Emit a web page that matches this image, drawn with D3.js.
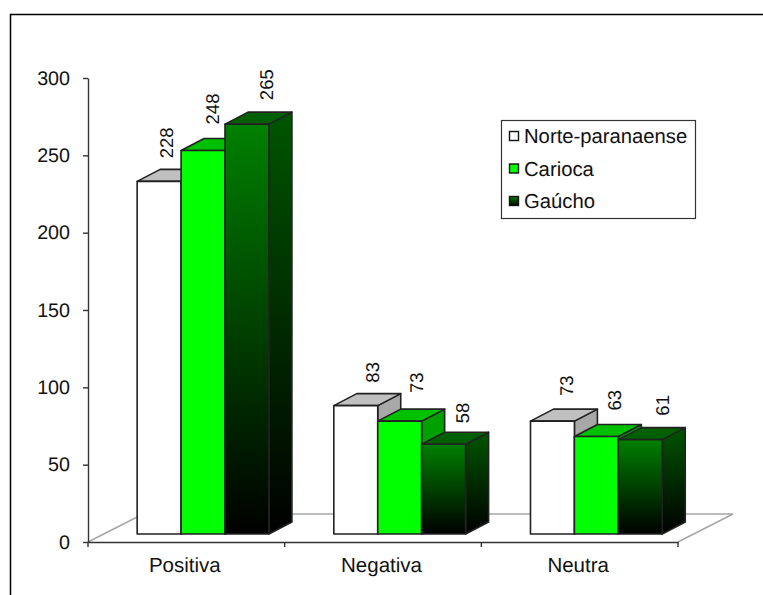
<!DOCTYPE html>
<html lang="pt">
<head>
<meta charset="UTF-8">
<title>Avaliação por região</title>
<script src="https://cdn.jsdelivr.net/npm/d3@7"></script>
<style>
  html, body { margin: 0; padding: 0; background: #fff; }
  svg { display: block; font-family: "Liberation Sans", Arial, sans-serif; fill: #111; text-rendering: geometricPrecision; }
</style>
</head>
<body>
<svg width="763" height="595"></svg>
<script>
// data
var categories = ['Positiva', 'Negativa', 'Neutra'];
var seriesNames = ['Norte-paranaense', 'Carioca', 'Gaúcho'];
var norteParanaense = [228, 83, 73];
var carioca = [248, 73, 63];
var gaucho = [265, 58, 61];
var yTicks = [0, 50, 100, 150, 200, 250, 300];

var seriesValues = [norteParanaense, carioca, gaucho];

var svg = d3.select('svg');

// chart frame: only top and left edges are visible
svg.append('path').attr('d', 'M10.5,595V14.5H763').attr('fill', 'none').attr('stroke', '#000').attr('stroke-width', 1.5);

var plotLeft = 88, plotRight = 678, plotTop = 78, plotBottom = 542;
var floorDx = 55, floorDy = 28;  // floor depth
var barShiftX = 16, barShiftY = 8;  // bars stand a bit inside the floor
var depthX = 23, depthY = 12;  // bar depth

var y = d3.scaleLinear().domain([0, 300]).range([plotBottom, plotTop]);
var xAxisScale = d3.scaleBand().domain(categories).range([plotLeft, plotRight]);
var x0 = d3.scaleBand().domain(categories)
  .range([plotLeft + barShiftX + 0.7, plotRight + barShiftX + 0.7])
  .paddingInner(0.33).paddingOuter(0.165);
var x1 = d3.scaleBand().domain(d3.range(seriesNames.length)).range([0, x0.bandwidth()]);

// gradients for the dark series
var defs = svg.append('defs');
function addGrad(id, top, bottom) {
  var g = defs.append('linearGradient').attr('id', id).attr('x1', 0).attr('y1', 0).attr('x2', 0).attr('y2', 1);
  g.append('stop').attr('offset', '0%').attr('stop-color', top);
  g.append('stop').attr('offset', '100%').attr('stop-color', bottom);
}
addGrad('darkFront', '#008000', '#000000');
addGrad('darkSide', '#005500', '#000000');

var faceFill = [
  { front: '#ffffff', top: '#c0c0c0', side: '#a8a8a8' },
  { front: '#00ff00', top: '#00c000', side: '#00a000' },
  { front: 'url(#darkFront)', top: '#006000', side: 'url(#darkSide)' }
];

// floor
svg.append('path')
  .attr('d', d3.line()([[plotLeft, plotBottom], [plotLeft + floorDx, plotBottom - floorDy],
    [plotRight + floorDx, plotBottom - floorDy], [plotRight, plotBottom]]))
  .attr('fill', 'none').attr('stroke', '#a6a6a6').attr('stroke-width', 1.5);

// axes
var yAxis = d3.axisLeft(y).tickValues(yTicks).tickSize(5).tickSizeOuter(0).tickPadding(13);
var yG = svg.append('g').attr('transform', 'translate(' + plotLeft + ',0)').call(yAxis);
yG.selectAll('text').attr('font-size', 19.7).attr('font-family', 'inherit').attr('fill', '#111');
yG.selectAll('line,path').attr('stroke', '#333').attr('stroke-width', 1.4);

var xAxis = d3.axisBottom(xAxisScale).tickSize(0).tickPadding(15);
var xG = svg.append('g').attr('transform', 'translate(0,' + plotBottom + ')').call(xAxis);
xG.selectAll('text').attr('font-size', 20.5).attr('font-family', 'inherit').attr('fill', '#111').attr('dx', -1.5);
xG.select('.domain').attr('stroke', '#333').attr('stroke-width', 1.6);
// ticks sit between the categories
xG.selectAll('.sep').data(d3.range(categories.length + 1)).enter().append('line')
  .attr('x1', function (i) { return plotLeft + i * xAxisScale.step(); })
  .attr('x2', function (i) { return plotLeft + i * xAxisScale.step(); })
  .attr('y1', 0).attr('y2', 5).attr('stroke', '#333').attr('stroke-width', 1.4);

// bars
var barLine = d3.line();
categories.forEach(function (cat, c) {
  seriesValues.forEach(function (vals, s) {
    var v = vals[c];
    var left = x0(cat) + x1(s), right = left + x1.bandwidth();
    var top = y(v) - barShiftY, bottom = y(0) - barShiftY;
    var g = svg.append('g').attr('stroke', '#222').attr('stroke-width', 1.6).attr('stroke-linejoin', 'round');
    g.append('path')
      .attr('d', barLine([[right, top], [right + depthX, top - depthY], [right + depthX, bottom - depthY], [right, bottom]]) + 'Z')
      .attr('fill', faceFill[s].side);
    g.append('path')
      .attr('d', barLine([[left, top], [left + depthX, top - depthY], [right + depthX, top - depthY], [right, top]]) + 'Z')
      .attr('fill', faceFill[s].top);
    g.append('rect').attr('x', left).attr('y', top).attr('width', right - left).attr('height', bottom - top)
      .attr('fill', faceFill[s].front);
  });
});

// value labels were moved by hand in the original, so each has its own nudge [dx, dy]
var labelNudge = [
  [[7, -23], [9, -26], [19, -24]],
  [[17, -23], [17, -28], [19, -21]],
  [[14, -25], [18, -26], [22, -24]]
];
categories.forEach(function (cat, c) {
  seriesValues.forEach(function (vals, s) {
    var cx = x0(cat) + x1(s) + x1.bandwidth() / 2 + labelNudge[c][s][0];
    var by = y(vals[c]) - barShiftY + labelNudge[c][s][1];
    svg.append('text')
      .attr('transform', 'translate(' + cx + ',' + by + ') rotate(-90)')
      .attr('dy', '0.36em')
      .attr('font-size', 18.5)
      .text(vals[c]);
  });
});

// legend
var legend = svg.append('g').attr('transform', 'translate(501,120)');
legend.append('rect').attr('x', 0.5).attr('y', 0.5).attr('width', 194).attr('height', 98)
  .attr('fill', '#fff').attr('stroke', '#333').attr('stroke-width', 1.2);
var legendFill = ['#ffffff', '#00ff00', 'url(#darkFront)'];
var legendY = d3.scalePoint().domain(seriesNames).range([16, 81]);
seriesNames.forEach(function (name, i) {
  legend.append('rect').attr('x', 8.5).attr('y', legendY(name) - 4.5).attr('width', 9).attr('height', 9)
    .attr('fill', legendFill[i]).attr('stroke', '#111').attr('stroke-width', 1.4);
  legend.append('text').attr('x', 23).attr('y', legendY(name)).attr('dy', '0.36em')
    .attr('font-size', 20.25).text(name);
});
</script>
</body>
</html>
